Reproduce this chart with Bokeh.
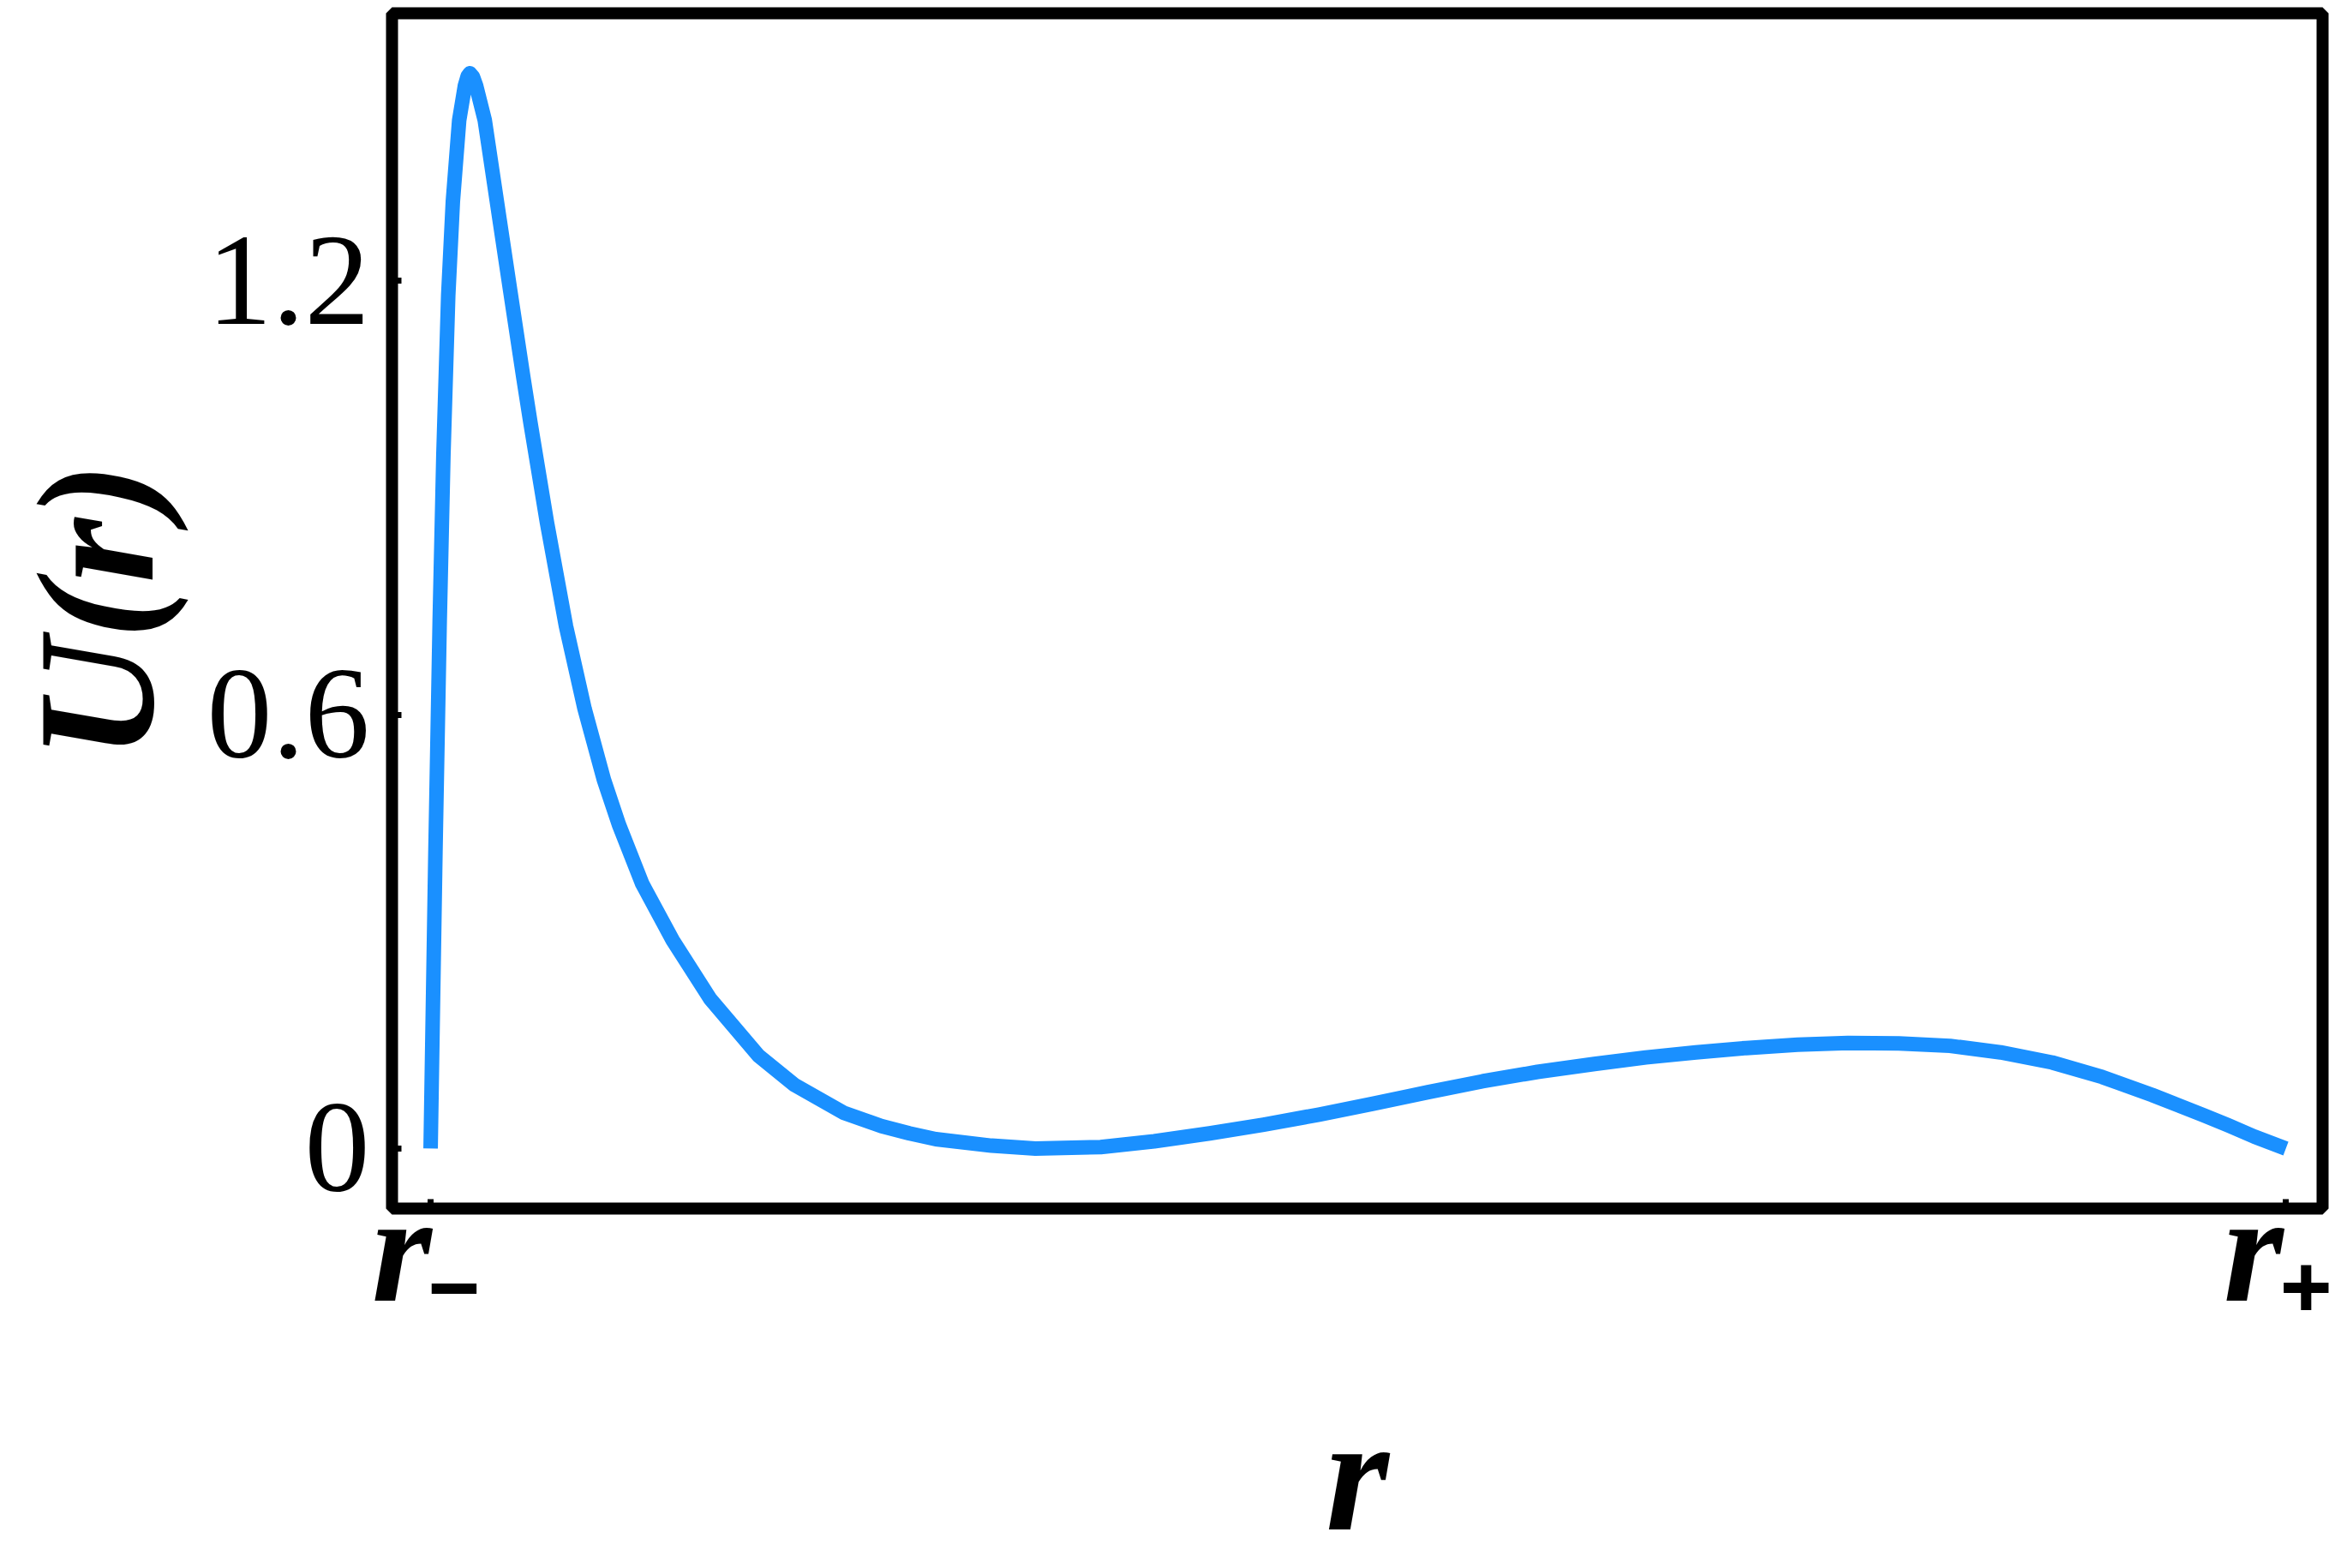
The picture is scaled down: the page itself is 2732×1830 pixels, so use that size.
from bokeh.plotting import figure
from bokeh.models import Range1d, FixedTicker
from bokeh.embed import file_html
from bokeh.resources import INLINE

# Curve values (r scaled so that r- = 0, r+ = 1)
r_vals = [0.0, 0.0026, 0.0049, 0.0069, 0.0095, 0.0120, 0.0154, 0.0185, 0.0200,
          0.0212, 0.0228, 0.0245, 0.0292, 0.0361, 0.0430, 0.0500, 0.0538, 0.0627,
          0.0730, 0.0830, 0.0934, 0.1015, 0.1141, 0.1305, 0.1507, 0.1769, 0.1961,
          0.2230, 0.2430, 0.2581, 0.2723, 0.3023, 0.326, 0.3612, 0.390, 0.4199,
          0.449, 0.4789, 0.508, 0.5377, 0.567, 0.5966, 0.6273, 0.655, 0.682,
          0.709, 0.7368, 0.764, 0.7914, 0.819, 0.8462, 0.874, 0.901, 0.928,
          0.9557, 0.969, 0.983, 1.0]
u_vals = [0.0, 0.41, 0.73, 0.96, 1.18, 1.31, 1.422, 1.470, 1.483,
          1.487, 1.482, 1.470, 1.422, 1.303, 1.185, 1.066, 1.004, 0.866,
          0.722, 0.608, 0.510, 0.448, 0.366, 0.288, 0.207, 0.128, 0.088,
          0.049, 0.031, 0.021, 0.013, 0.004, 0.0, 0.002, 0.010, 0.021,
          0.033, 0.047, 0.062, 0.078, 0.093, 0.106, 0.117, 0.126, 0.133,
          0.139, 0.1435, 0.146, 0.1455, 0.142, 0.133, 0.119, 0.099, 0.074,
          0.046, 0.032, 0.0165, 0.0]

x_ticks = [0, 1]
x_tick_labels = ["r\u208b", "r\u208a"]
y_ticks = [0, 0.6, 1.2]
y_tick_labels = ["0", "0.6", "1.2"]
x_label = "r"
y_label = "U(r)"

x_lo, x_hi = -0.0208, 1.0198
y_lo, y_hi = -0.083, 1.570

W, H = 2732, 1830
frame_left, frame_right, frame_top, frame_bottom = 455, 2710, 15, 1410

p = figure(width=W, height=H, output_backend="svg", toolbar_location=None,
           x_range=Range1d(x_lo, x_hi), y_range=Range1d(y_lo, y_hi),
           min_border_left=frame_left, min_border_right=W - frame_right,
           min_border_top=frame_top, min_border_bottom=H - frame_bottom)

p.line(r_vals, u_vals, line_width=17, line_color="#1a90ff", line_join="round")

p.grid.visible = False
p.background_fill_color = "white"
p.border_fill_color = "white"
p.outline_line_color = "black"
p.outline_line_width = 14
p.outline_line_alpha = 1.0

xa = p.xaxis[0]
ya = p.yaxis[0]
xa.ticker = FixedTicker(ticks=x_ticks)
ya.ticker = FixedTicker(ticks=y_ticks)
xa.major_label_overrides = {t: l for t, l in zip(x_ticks, x_tick_labels)}
ya.major_label_overrides = {t: l for t, l in zip(y_ticks, y_tick_labels)}

for ax in (xa, ya):
    ax.axis_line_color = None
    ax.major_tick_in = 11
    ax.major_tick_out = 0
    ax.major_tick_line_width = 7
    ax.major_tick_line_color = "black"
    ax.minor_tick_line_color = None
    ax.axis_label_text_font = "Liberation Serif"
    ax.axis_label_text_font_style = "bold italic"
    ax.axis_label_text_color = "black"
    ax.major_label_text_color = "black"

xa.major_label_text_font = "Liberation Serif, Noto Sans"
xa.major_label_text_font_style = "bold italic"
xa.major_label_text_font_size = "180px"
xa.major_label_standoff = -53
xa.axis_label = x_label
xa.axis_label_text_font_size = "190px"
xa.axis_label_standoff = 56

ya.major_label_text_font = "Liberation Serif"
ya.major_label_text_font_style = "normal"
ya.major_label_text_font_size = "152px"
ya.major_label_standoff = 26
ya.axis_label = y_label
ya.axis_label_text_font_size = "195px"
ya.axis_label_standoff = 19

open("out.html", "w").write(file_html(p, INLINE))
